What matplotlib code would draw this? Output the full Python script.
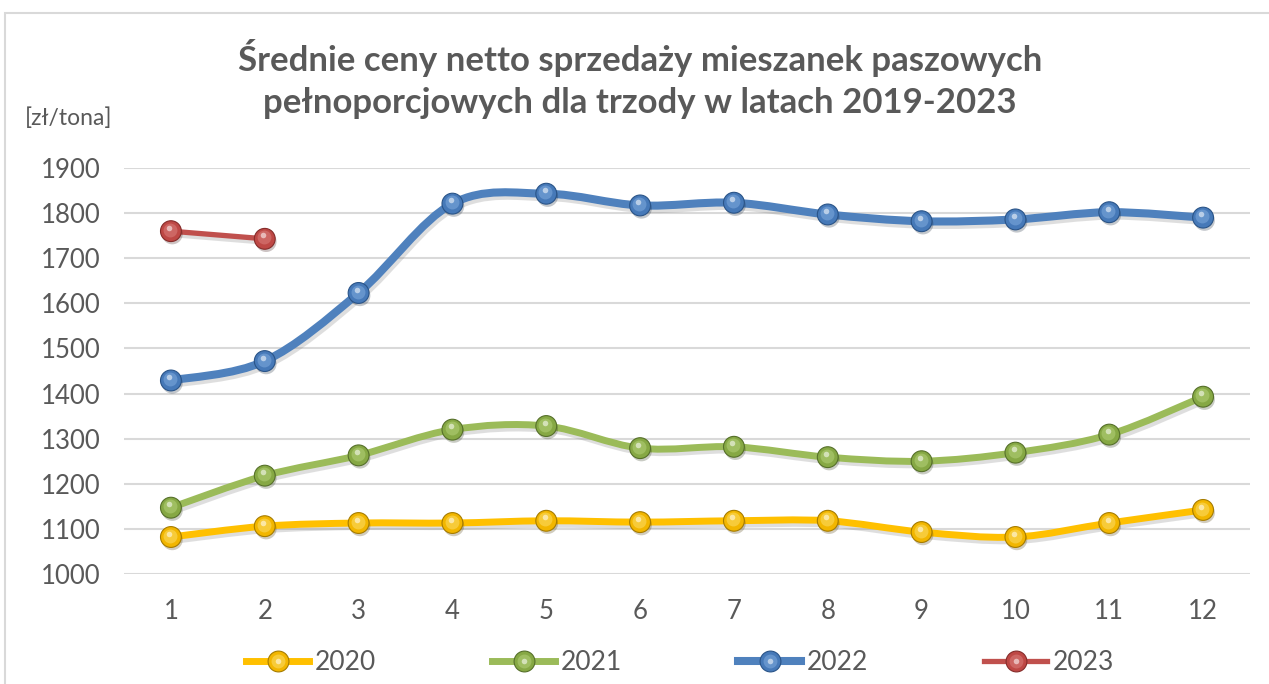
import matplotlib
matplotlib.use("Agg")
import matplotlib.pyplot as plt
import matplotlib.patheffects as pe
import matplotlib.transforms as mtransforms
from matplotlib.path import Path
from matplotlib.patches import PathPatch, Rectangle
from matplotlib.legend_handler import HandlerTuple
import numpy as np

plt.rcParams['font.family'] = ['Lato', 'DejaVu Sans']

# dane [zł/tona]
miesiace = list(range(1, 13))
ceny_2020 = [1082, 1106, 1113, 1113, 1118, 1115, 1118, 1118, 1093, 1082, 1113, 1142]
ceny_2021 = [1147, 1218, 1263, 1320, 1328, 1279, 1282, 1259, 1250, 1269, 1309, 1393]
ceny_2022 = [1429, 1472, 1623, 1821, 1843, 1817, 1823, 1797, 1782, 1786, 1802, 1790]
ceny_2023 = [1760, 1743]
lata = ['2020', '2021', '2022', '2023']
y_ticks = [1000, 1100, 1200, 1300, 1400, 1500, 1600, 1700, 1800, 1900]

TXT = '#595959'

# (line colour, line width, marker face, marker edge, highlight)
styles = {
    '2020': ('#FFC000', 5.0, '#F2B600', '#A67C00', '#FFE680'),
    '2021': ('#9BBB59', 5.0, '#86A844', '#56702A', '#BEDA85'),
    '2022': ('#4F81BD', 5.8, '#4679B8', '#2A5488', '#8DB5E6'),
    '2023': ('#C0504D', 3.8, '#BE4845', '#852C2A', '#E08C89'),
}


def smooth_path(xs, ys):
    # bezier przez punkty, jak "wygładzona linia" w Excelu
    pts = np.column_stack([xs, ys]).astype(float)
    n = len(pts)
    verts = [pts[0]]
    codes = [Path.MOVETO]
    for i in range(n - 1):
        p0 = pts[max(i - 1, 0)]
        p1 = pts[i]
        p2 = pts[i + 1]
        p3 = pts[min(i + 2, n - 1)]
        verts += [p1 + (p2 - p0) / 6.0, p2 - (p3 - p1) / 6.0, p2]
        codes += [Path.CURVE4] * 3
    return Path(verts, codes)


def sphere_layers(target, xs, ys, face, edge, hl, **kw):
    # kulka: ciemna obwódka, jaśniejszy środek, mały odblask
    off1 = mtransforms.ScaledTranslation(-0.6 / 72, 1.0 / 72, fig.dpi_scale_trans)
    off2 = mtransforms.ScaledTranslation(-1.2 / 72, 2.4 / 72, fig.dpi_scale_trans)
    out = []
    a, = target.plot(xs, ys, linestyle='none', marker='o', markersize=15,
                     markerfacecolor=face, markeredgecolor=edge, markeredgewidth=0.8, **kw)
    out.append(a)
    b, = target.plot(xs, ys, linestyle='none', marker='o', markersize=10,
                     markerfacecolor=hl, markeredgewidth=0, alpha=0.45,
                     transform=target.transData + off1, **kw)
    out.append(b)
    c, = target.plot(xs, ys, linestyle='none', marker='o', markersize=4,
                     markerfacecolor='white', markeredgewidth=0, alpha=0.55,
                     transform=target.transData + off2, **kw)
    out.append(c)
    return out


fig = plt.figure(figsize=(12.69, 6.84), dpi=100)
fig.patches.append(Rectangle((5 / 1269, -0.05), 1.1, 1.05 - 13 / 684,
                             transform=fig.transFigure, fill=False,
                             edgecolor='#D9D9D9', linewidth=1.5))

ax = fig.add_axes([124 / 1269, 1 - 574 / 684, 1126 / 1269, 406 / 684])
ax.set_xlim(0.5, 12.5)
ax.set_ylim(1000, 1900)
ax.set_yticks(y_ticks)
ax.set_xticks(miesiace)
ax.yaxis.grid(True, color='#D9D9D9', linewidth=1.5)
ax.set_axisbelow(True)
for s in ax.spines.values():
    s.set_visible(False)
ax.tick_params(axis='both', length=0, labelsize=18.5, labelcolor=TXT)
ax.tick_params(axis='y', pad=17)
ax.tick_params(axis='x', pad=18)

serie = {'2020': ceny_2020, '2021': ceny_2021, '2022': ceny_2022, '2023': ceny_2023}
handles = []
for rok in lata:
    vals = serie[rok]
    xs = miesiace[:len(vals)]
    col, lw, face, edge, hl = styles[rok]
    patch = PathPatch(smooth_path(xs, vals), fill=False, edgecolor=col,
                      linewidth=lw, capstyle='round', joinstyle='round', zorder=3)
    patch.set_path_effects([pe.SimpleLineShadow(offset=(1.5, -2.5), shadow_color='#7F7F7F', alpha=0.25),
                            pe.Normal()])
    ax.add_patch(patch)
    layers = sphere_layers(ax, xs, vals, face, edge, hl, zorder=4)
    layers[0].set_path_effects([pe.SimplePatchShadow(offset=(1, -2), alpha=0.25), pe.Normal()])
    ln, = ax.plot([], [], color=col, linewidth=lw)
    leg_layers = []
    for ms, fc, ec, mew, al in [(15, face, edge, 0.8, 1.0), (10, hl, 'none', 0, 0.45),
                                (4, 'white', 'none', 0, 0.55)]:
        h, = ax.plot([], [], linestyle='none', marker='o', markersize=ms,
                     markerfacecolor=fc, markeredgecolor=ec, markeredgewidth=mew, alpha=al)
        leg_layers.append(h)
    handles.append(tuple([ln] + leg_layers))

fig.text(640 / 1269, 1 - 58 / 684, 'Średnie ceny netto sprzedaży mieszanek paszowych',
         ha='center', va='center', fontsize=25, fontweight='bold', color=TXT)
fig.text(640 / 1269, 1 - 103 / 684, 'pełnoporcjowych dla trzody w latach 2019-2023',
         ha='center', va='center', fontsize=25, fontweight='bold', color=TXT)
fig.text(25 / 1269, 1 - 118 / 684, '[zł/tona]', ha='left', va='center',
         fontsize=16.5, color=TXT)

fig.legend(handles, lata, handler_map={tuple: HandlerTuple(ndivide=1)},
           loc='center', bbox_to_anchor=(680 / 1269, 1 - 663 / 684), ncol=4,
           frameon=False, fontsize=19, labelcolor=TXT, handlelength=2.4,
           handletextpad=0.2, columnspacing=4.4)

fig.savefig('out.png', dpi=100, facecolor='white')
